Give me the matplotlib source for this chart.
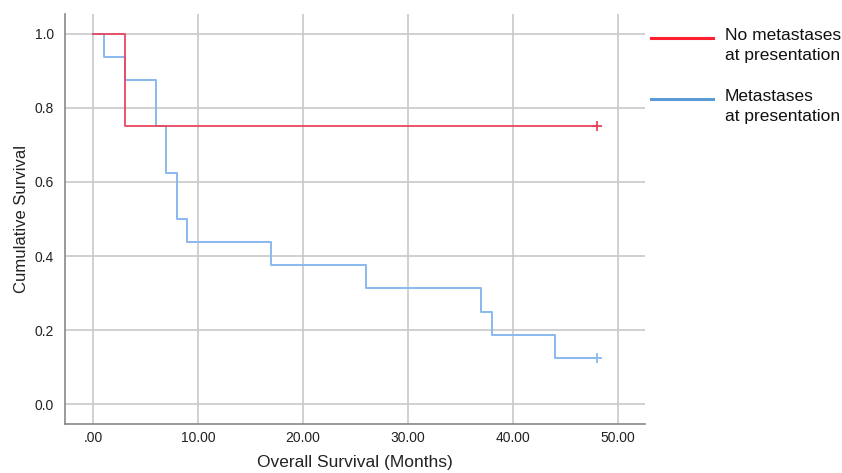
import matplotlib
matplotlib.use("Agg")
import matplotlib.pyplot as plt
from matplotlib.lines import Line2D

plt.rcParams['font.family'] = ['Liberation Sans', 'DejaVu Sans']

# Kaplan-Meier step data (time in months, survival)
red_times = [0, 3, 48]
red_surv = [1.0, 0.75, 0.75]
red_censor_t = [48]
red_censor_s = [0.75]

blue_times = [0, 1, 3, 6, 7, 8, 9, 17, 26, 37, 38, 44, 48]
blue_surv = [1.0, 0.9375, 0.875, 0.75, 0.625, 0.5, 0.4375, 0.375, 0.3125, 0.25, 0.1875, 0.125, 0.125]
blue_censor_t = [48]
blue_censor_s = [0.125]

xticks = [0, 10, 20, 30, 40, 50]
xticklabels = ['.00', '10.00', '20.00', '30.00', '40.00', '50.00']
yticks = [0.0, 0.2, 0.4, 0.6, 0.8, 1.0]
yticklabels = ['0.0', '0.2', '0.4', '0.6', '0.8', '1.0']

labels = ['No metastases\nat presentation', 'Metastases\nat presentation']
legend_colors = ['#ff1f2e', '#5b9bd5']

W, H = 842, 473
fig = plt.figure(figsize=(W/100, H/100), dpi=100)
ax = fig.add_axes([65/W, 1-424/H, (645-65)/W, (424-14)/H])

red = '#e8435c'
blue = '#8ab9ee'

ax.step(blue_times, blue_surv, where='post', color=blue, lw=1.4, zorder=3)
ax.plot(blue_censor_t, blue_censor_s, '+', color=blue, ms=7, mew=1.3, zorder=3)
ax.step(red_times, red_surv, where='post', color=red, lw=1.4, zorder=4, alpha=0.9)
ax.plot(red_censor_t, red_censor_s, '+', color=red, ms=7, mew=1.3, zorder=4)

ax.set_xlim(-2.67, 52.6)
ax.set_ylim(-0.054, 1.054)
ax.set_xticks(xticks)
ax.set_xticklabels(xticklabels)
ax.set_yticks(yticks)
ax.set_yticklabels(yticklabels)
ax.grid(True, color='#c8c8c8', lw=1.2)
ax.set_axisbelow(True)
for s in ['top', 'right']:
    ax.spines[s].set_visible(False)
for s in ['left', 'bottom']:
    ax.spines[s].set_color('#888888')
    ax.spines[s].set_linewidth(1.2)
ax.tick_params(length=0, labelsize=10, colors='#222222')
ax.tick_params(axis='x', pad=5)
ax.tick_params(axis='y', pad=8)
ax.set_xlabel('Overall Survival (Months)', fontsize=12.5, color='#222222', labelpad=7)
ax.set_ylabel('Cumulative Survival', fontsize=12, color='#222222', labelpad=4)

# legend drawn at figure level
for i, (lab, col) in enumerate(zip(labels, legend_colors)):
    y = 38 + i * 61
    fig.add_artist(Line2D([651/W, 713/W], [1 - y/H, 1 - y/H], color=col, lw=2.2,
                          transform=fig.transFigure))
    fig.text(725/W, 1 - (y - 10)/H, lab, fontsize=12.5, color='#111111',
             va='top', ha='left', linespacing=1.4)

fig.savefig('out.png', dpi=100)
